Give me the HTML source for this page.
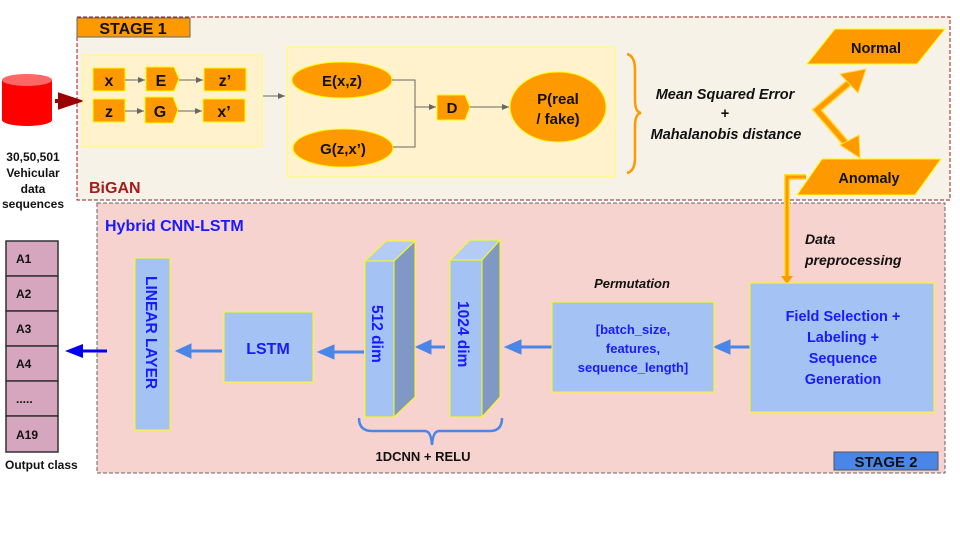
<!DOCTYPE html>
<html><head><meta charset="utf-8"><style>
html,body{margin:0;padding:0;background:#fff;width:960px;height:540px;overflow:hidden}
text{font-family:"Liberation Sans",Arial,sans-serif;font-weight:bold}
</style></head><body>
<svg width="960" height="540" viewBox="0 0 960 540" xmlns="http://www.w3.org/2000/svg">
<defs>
<marker id="ag" markerWidth="8" markerHeight="8" refX="7" refY="4" orient="auto" markerUnits="userSpaceOnUse"><path d="M0,1 L7,4 L0,7z" fill="#666"/></marker>
</defs>
<!-- Stage 1 -->
<rect x="77" y="17" width="873" height="183" fill="#f7f2e8" stroke="#a01818" stroke-dasharray="4,2" stroke-width="1"/>
<rect x="77" y="18" width="113" height="19" fill="#ff9900" stroke="#666"/>
<text x="133" y="34" font-size="16" text-anchor="middle" fill="#111">STAGE 1</text>
<text x="89" y="193" font-size="16" fill="#a61c1c">BiGAN</text>
<!-- cylinder -->
<path d="M2,80 L2,120 A25,6 0 0 0 52,120 L52,80z" fill="#ff0000"/>
<ellipse cx="27" cy="80" rx="25" ry="6" fill="#ff6666"/>
<path d="M55,101 L62,101 M60,95 L78,101 L60,107z" stroke="#990000" stroke-width="4" fill="#990000"/>
<g font-size="12" text-anchor="middle" fill="#111">
<text x="33" y="161">30,50,501</text><text x="33" y="177">Vehicular</text><text x="33" y="193">data</text><text x="33" y="208">sequences</text></g>
<!-- left panel -->
<rect x="83" y="55" width="179" height="92" fill="#fff2cc" stroke="#ffff66"/>
<g stroke="#ffff00" stroke-width="1" fill="#ff9900">
<rect x="93" y="68" width="32" height="23"/><rect x="204" y="68" width="42" height="23"/>
<rect x="93" y="99" width="32" height="23"/><rect x="203" y="99" width="42" height="23"/>
<path d="M146,67 L174,67 L179,79 L174,91 L146,91z"/>
<path d="M145,97 L173,97 L178,110 L173,123 L145,123z"/>
</g>
<g stroke="#666" stroke-width="1" marker-end="url(#ag)">
<line x1="125" y1="80" x2="145" y2="80"/><line x1="179" y1="80" x2="203" y2="80"/>
<line x1="125" y1="111" x2="144" y2="111"/><line x1="178" y1="111" x2="202" y2="111"/>
<line x1="263" y1="96" x2="285" y2="96"/>
</g>
<g font-size="16" fill="#111" text-anchor="middle">
<text x="109" y="86">x</text><text x="161" y="86">E</text><text x="225" y="86">z’</text>
<text x="109" y="117">z</text><text x="160" y="117">G</text><text x="224" y="117">x’</text></g>
<!-- right panel -->
<rect x="287" y="47" width="328" height="130" fill="#fff2cc" stroke="#ffff66"/>
<g fill="#ff9900" stroke="#ffff00">
<ellipse cx="342" cy="80" rx="50" ry="18"/><ellipse cx="343" cy="148" rx="50" ry="19"/>
<path d="M437,95 L465,95 L470,107 L465,120 L437,120z"/>
<ellipse cx="558" cy="107" rx="48" ry="35"/></g>
<g stroke="#666" fill="none" stroke-width="1">
<polyline points="392,80 415,80 415,147 393,147"/>
</g>
<g stroke="#666" stroke-width="1" marker-end="url(#ag)">
<line x1="415" y1="107" x2="436" y2="107"/><line x1="470" y1="107" x2="509" y2="107"/>
</g>
<g font-size="15" fill="#111" text-anchor="middle">
<text x="342" y="86">E(x,z)</text><text x="343" y="154">G(z,x’)</text><text x="452" y="113">D</text>
<text x="558" y="104">P(real</text><text x="558" y="124">/ fake)</text></g>
<!-- brace -->
<path d="M627,54 Q635,56 635,70 L635,100 Q635,112 641,113 Q635,114 635,126 L635,158 Q635,171 627,173" fill="none" stroke="#ff9900" stroke-width="2.5"/>
<g font-size="14.5" font-style="italic" fill="#111" text-anchor="middle">
<text x="725" y="99">Mean Squared Error</text><text x="725" y="118" font-style="normal">+</text><text x="726" y="139">Mahalanobis distance</text></g>
<!-- Normal / Anomaly -->
<path d="M835,29 L945,29 L917,64 L807,64z" fill="#ff9900" stroke="#ffff00"/>
<path d="M822,159 L941,159 L915,195 L797,195z" fill="#ff9900" stroke="#ffff00"/>
<text x="876" y="53" font-size="14.5" text-anchor="middle" fill="#111">Normal</text>
<text x="869" y="183" font-size="14.5" text-anchor="middle" fill="#111">Anomaly</text>
<g stroke="#ffdd33" stroke-width="8" fill="none"><polyline points="850,82 817,110 850,148"/></g>
<g stroke="#ff9900" stroke-width="5" fill="none"><polyline points="850,82 817,110 850,148"/></g>
<path d="M840,74 L866,69 L858,93z" fill="#ff9900" stroke="#ffdd33"/>
<path d="M840,145 L859,135 L860,158z" fill="#ff9900" stroke="#ffdd33"/>
<!-- Stage 2 -->
<rect x="97" y="203" width="848" height="270" fill="#f6d3ce" stroke="#666" stroke-dasharray="4,2"/>
<polyline points="806,177 787,177 787,278" fill="none" stroke="#ffdd33" stroke-width="6"/>
<polyline points="806,177 787,177 787,278" fill="none" stroke="#ff9900" stroke-width="3"/>
<path d="M781,276 L793,276 L787,284z" fill="#ff9900"/>
<text x="105" y="231" font-size="16" fill="#1a1aff">Hybrid CNN-LSTM</text>
<rect x="834" y="452" width="104" height="18" fill="#4a86e8" stroke="#555"/>
<text x="886" y="467" font-size="15" text-anchor="middle" fill="#111">STAGE 2</text>
<!-- output -->
<g fill="#d5a6bd" stroke="#333" stroke-width="1.5">
<rect x="6" y="241" width="52" height="35"/><rect x="6" y="276" width="52" height="35"/><rect x="6" y="311" width="52" height="35"/>
<rect x="6" y="346" width="52" height="35"/><rect x="6" y="381" width="52" height="35"/><rect x="6" y="416" width="52" height="36"/></g>
<g font-size="12" fill="#111"><text x="16" y="263">A1</text><text x="16" y="298">A2</text><text x="16" y="333">A3</text><text x="16" y="368">A4</text><text x="16" y="403">.....</text><text x="16" y="439">A19</text></g>
<text x="5" y="469" font-size="12" fill="#111">Output class</text>
<path d="M107,351 L78,351" stroke="#0000ee" stroke-width="3"/><path d="M65,351 L83,344 L83,358z" fill="#0000ee"/>
<!-- blue arrows -->
<g fill="#4a86e8" stroke="#4a86e8">
<path d="M222,351 L186,351" stroke-width="3"/><path d="M176,351 L191,344 L191,358z"/>
<path d="M364,352 L329,352" stroke-width="3"/><path d="M318,352 L334,345 L334,359z"/>
<path d="M445,347 L426,347" stroke-width="3"/><path d="M416,347 L431,340 L431,354z"/>
<path d="M555,347 L516,347" stroke-width="3"/><path d="M505,347 L521,340 L521,354z"/>
<path d="M750,347 L725,347" stroke-width="3"/><path d="M714,347 L730,340 L730,354z"/>
</g>
<!-- linear layer -->
<rect x="135" y="258" width="35" height="172" fill="#a4c2f4" stroke="#ffff00"/>
<text transform="translate(146,276) rotate(90)" font-size="15.5" fill="#1a1aff">LINEAR LAYER</text>
<rect x="224" y="312" width="89" height="70" fill="#a4c2f4" stroke="#ffff00"/>
<text x="268" y="354" font-size="16" text-anchor="middle" fill="#1a1aff">LSTM</text>
<!-- 3d blocks -->
<g stroke="#ffff00">
<path d="M365,261 L386,241 L415,241 L394,261z" fill="#b4cbf4"/>
<path d="M394,261 L415,241 L415,397 L394,417z" fill="#8099c4"/>
<rect x="365" y="261" width="29" height="156" fill="#a4c2f4"/>
<path d="M450,260 L470,240 L500,240 L482,260z" fill="#b4cbf4"/>
<path d="M482,260 L500,240 L500,397 L482,417z" fill="#8099c4"/>
<rect x="450" y="260" width="32" height="157" fill="#a4c2f4"/>
</g>
<text transform="translate(372,305) rotate(90)" font-size="15.5" fill="#1a1aff">512 dim</text>
<text transform="translate(458,301) rotate(90)" font-size="15.5" fill="#1a1aff">1024 dim</text>
<path d="M359,418 Q359,431 372,431 L425,431 Q431,431 432,445 Q433,431 439,431 L490,431 Q502,431 502,418" fill="none" stroke="#4a86e8" stroke-width="2.5"/>
<text x="423" y="461" font-size="13" text-anchor="middle" fill="#111">1DCNN + RELU</text>
<!-- permutation -->
<text x="632" y="288" font-size="13" font-style="italic" text-anchor="middle" fill="#111">Permutation</text>
<rect x="552" y="302" width="162" height="90" fill="#a4c2f4" stroke="#ffff00"/>
<g font-size="13" fill="#1a1aff" text-anchor="middle"><text x="633" y="334">[batch_size,</text><text x="633" y="353">features,</text><text x="633" y="372">sequence_length]</text></g>
<text x="805" y="244" font-size="14" font-style="italic" fill="#111">Data</text>
<text x="805" y="265" font-size="14" font-style="italic" fill="#111">preprocessing</text>
<rect x="750" y="283" width="184" height="129" fill="#a4c2f4" stroke="#ffff00"/>
<g font-size="14.5" fill="#1a1aff" text-anchor="middle"><text x="843" y="321">Field Selection +</text><text x="843" y="342">Labeling +</text><text x="843" y="363">Sequence</text><text x="843" y="384">Generation</text></g>
</svg>
</body></html>
